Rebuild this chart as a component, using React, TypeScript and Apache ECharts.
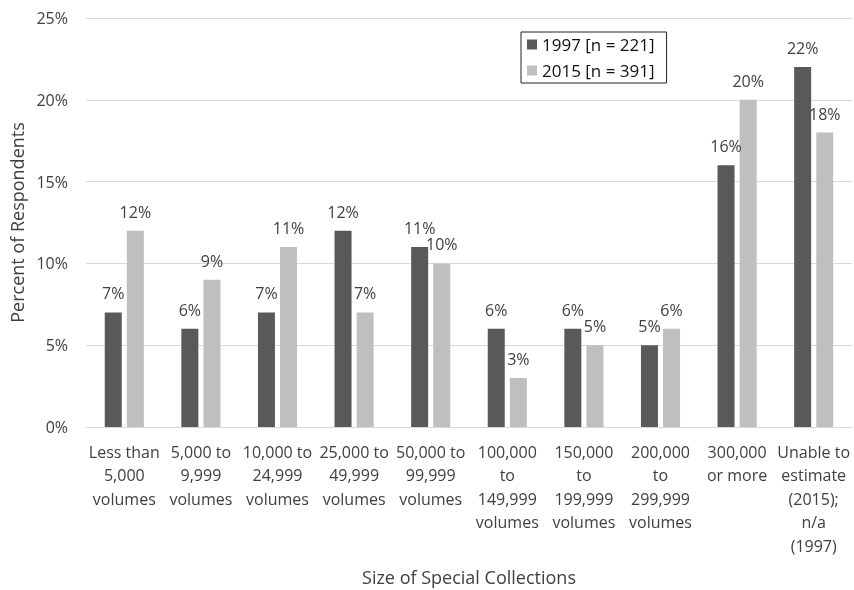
import React, { useEffect, useRef } from "react";
import * as echarts from "echarts";

const categories = [
  "Less than\n5,000\nvolumes",
  "5,000 to\n9,999\nvolumes",
  "10,000 to\n24,999\nvolumes",
  "25,000 to\n49,999\nvolumes",
  "50,000 to\n99,999\nvolumes",
  "100,000\nto\n149,999\nvolumes",
  "150,000\nto\n199,999\nvolumes",
  "200,000\nto\n299,999\nvolumes",
  "300,000\nor more",
  "Unable to\nestimate\n(2015);\nn/a\n(1997)",
];
const values1997 = [7, 6, 7, 12, 11, 6, 6, 5, 16, 22];
const values2015 = [12, 9, 11, 7, 10, 3, 5, 6, 20, 18];
const seriesNames = ["1997 [n = 221]", "2015 [n = 391]"];

const FONT = "'Open Sans', sans-serif";
const TEXT = "#404040";

export default function App() {
  const ref = useRef<HTMLDivElement>(null);
  useEffect(() => {
    if (!ref.current) return;
    const chart = echarts.init(ref.current, undefined, { renderer: "svg" });
    const label = {
      show: true,
      position: "top" as const,
      distance: 11,
      formatter: "{c}%",
      color: TEXT,
      fontFamily: FONT,
      fontSize: 16,
    };
    chart.setOption({
      animation: false,
      textStyle: { fontFamily: FONT, color: TEXT },
      grid: {
        left: 86,
        right: 2,
        top: 18,
        bottom: 163,
        outerBoundsMode: "none",
        containLabel: false,
      },
      legend: {
        orient: "vertical",
        left: 521,
        top: 32,
        itemWidth: 10,
        itemHeight: 10,
        itemGap: 9,
        padding: [4, 12, 4, 6],
        borderColor: "#222",
        borderWidth: 1,
        borderRadius: 0,
        icon: "rect",
        textStyle: { fontFamily: FONT, fontSize: 17, color: "#111" },
        data: seriesNames,
      },
      xAxis: {
        type: "category",
        data: categories,
        name: "Size of Special Collections",
        nameLocation: "middle",
        nameGap: 141,
        nameTextStyle: { fontFamily: FONT, fontSize: 18, color: TEXT },
        axisLine: { lineStyle: { color: "#d9d9d9", width: 1 } },
        axisTick: { show: false },
        axisLabel: {
          interval: 0,
          margin: 13,
          lineHeight: 23.5,
          fontSize: 16,
          color: TEXT,
          fontFamily: FONT,
        },
      },
      yAxis: {
        type: "value",
        min: 0,
        max: 25,
        interval: 5,
        name: "Percent of Respondents",
        nameLocation: "middle",
        nameGap: 58,
        nameTextStyle: { fontFamily: FONT, fontSize: 18, color: TEXT },
        axisLabel: {
          formatter: "{value}%",
          fontSize: 16,
          margin: 18,
          color: TEXT,
          fontFamily: FONT,
        },
        splitLine: { lineStyle: { color: "#d9d9d9", width: 1 } },
        axisLine: { show: false },
        axisTick: { show: false },
      },
      series: [
        {
          name: seriesNames[0],
          type: "bar",
          data: values1997,
          barWidth: 17,
          barGap: "30%",
          itemStyle: { color: "#595959" },
          label,
        },
        {
          name: seriesNames[1],
          type: "bar",
          data: values2015,
          barWidth: 17,
          itemStyle: { color: "#bfbfbf" },
          label,
        },
      ],
    });
    return () => chart.dispose();
  }, []);
  return (
    <div
      ref={ref}
      style={{ position: "fixed", left: 0, top: 0, width: 854, height: 590 }}
    />
  );
}
